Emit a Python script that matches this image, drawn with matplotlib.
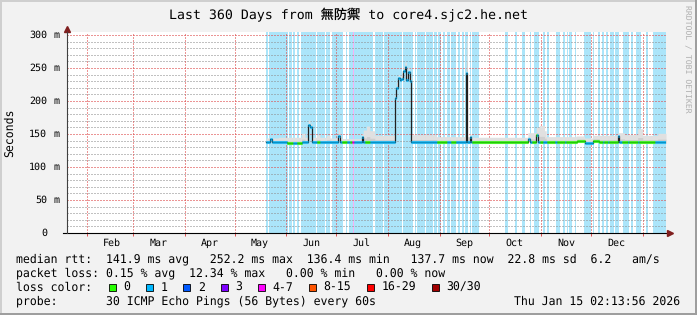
import numpy as np
import matplotlib
matplotlib.use('Agg')
import matplotlib.pyplot as plt
import matplotlib.dates as mdates
from matplotlib.collections import LineCollection
from matplotlib.patches import Rectangle
from datetime import datetime, timedelta

END = datetime(2026, 1, 15, 2, 13, 56)
START = END - timedelta(days=360)

# all x values are days since START
# light blue background bars (loss 1 seen in the interval)
loss_bg = [(119.6, 121.1), (121.7, 132.8), (133.6, 135.0), (135.8, 137.2), (138.0, 139.6),
           (140.6, 149.4), (150.3, 154.9), (155.9, 158.3), (159.3, 166.1), (167.7, 168.5),
           (169.7, 184.1), (184.9, 190.0), (190.8, 201.3), (201.9, 207.9), (208.9, 209.9),
           (210.3, 215.0), (216.0, 218.0), (218.4, 220.0), (220.6, 222.5), (223.1, 224.8),
           (226.0, 227.2), (228.4, 230.2), (230.8, 233.8), (235.0, 236.2), (237.4, 238.6),
           (239.2, 241.0), (242.2, 242.8), (243.4, 247.6), (263.2, 265.0), (269.2, 270.4),
           (273.5, 275.3), (278.0, 279.0), (280.7, 283.6), (286.1, 287.3), (288.5, 289.7),
           (293.9, 296.3), (298.1, 299.3), (300.5, 301.1), (301.7, 303.5), (305.3, 305.9),
           (310.7, 314.9), (316.1, 316.7), (319.1, 320.3), (321.5, 322.7), (323.9, 325.1),
           (326.3, 328.7), (329.3, 331.7), (334.2, 337.8), (339.0, 340.2), (341.9, 344.9),
           (347.9, 349.2), (352.2, 360.0)]
pink_bg = [(171.8, 172.4)]

DATA_START = 119.6
BASE_RTT = 137.5
# median rtt (ms) where it differs from the baseline: (from, to, value)
median_segments = [(122, 123, 143), (132.5, 141, 136), (145, 146, 163), (146, 147, 160),
                   (163, 164, 147), (177, 178, 146),
                   (197, 198, 205), (198, 199, 220), (199, 200, 235), (200, 201, 232),
                   (201, 202, 234), (202, 203, 245), (203, 204, 252), (204, 205, 232),
                   (205, 206, 244), (206, 207, 230),
                   (239.5, 240.5, 242), (242, 243, 145), (277, 278, 142), (282, 283, 148),
                   (306.5, 311.3, 139.5), (311.3, 316, 136), (316, 320, 139.5), (331, 332, 147)]

SMOKE_TOP = 145.0
# top of the smoke (ms)
smoke_segments = [(119.6, 127, 144), (141, 143, 151), (145, 146, 171), (146, 147, 166),
                  (150, 152, 149), (156, 158, 148), (158, 163, 144), (163, 164, 157),
                  (164, 165, 148), (165, 177, 143), (177, 178, 150), (178, 180, 156),
                  (180, 182, 162), (182, 185, 155), (185, 197, 148),
                  (197, 198, 210), (198, 199, 228), (199, 200, 240), (200, 201, 238),
                  (201, 202, 242), (202, 203, 252), (203, 204, 259), (204, 205, 240),
                  (205, 206, 250), (206, 207, 236),
                  (207, 222, 149), (222, 239.5, 146), (240, 240.5, 295), (240.5, 242, 146),
                  (242, 243, 150), (243, 277, 145), (277, 282, 152), (282, 284, 160),
                  (284, 287, 163), (287, 288, 155), (288, 306, 146), (306, 311, 147),
                  (311, 316, 144), (316, 331, 148), (331, 335, 152), (335, 343, 149),
                  (343, 346, 158), (346, 355, 148), (355, 360, 151)]

# loss class of the median band (default 0 = no loss)
band_loss = [(119.6, 132.5, 1), (136, 138, 1), (141, 150, 1), (152, 165, 1), (168, 170, 1),
             (171.5, 172.5, 4), (172.5, 179, 1), (182, 222.5, 1), (228.5, 231, 1),
             (234, 243.5, 1), (277, 279.5, 1), (282.5, 284.5, 1), (286, 288.5, 1),
             (293.5, 294.5, 1), (299, 300, 1), (311.3, 316, 1), (322, 323, 1), (325, 326, 1),
             (331, 333.5, 1), (337, 338, 1), (343, 344, 1), (353.5, 360, 1)]

loss_labels = ['0', '1', '2', '3', '4-7', '8-15', '16-29', '30/30']
loss_colors = ['#26ff00', '#00b8ff', '#0059ff', '#7e00ff', '#ff00ff', '#ff5500', '#ff0000', '#a00000']

y_ticks = [0, 50, 100, 150, 200, 250, 300]

legend_lines = [
    'median rtt:  141.9 ms avg   252.2 ms max  136.4 ms min   137.7 ms now  22.8 ms sd  6.2   am/s',
    'packet loss: 0.15 % avg  12.34 % max   0.00 % min   0.00 % now',
    'loss color:',
    'probe:       30 ICMP Echo Pings (56 Bytes) every 60s',
]
title = 'Last 360 Days from 無防禦 to core4.sjc2.he.net'
stamp = 'Thu Jan 15 02:13:56 2026'


def step_eval(segs, t, default):
    out = np.full(len(t), default, dtype=float)
    for a, b, v in segs:
        out[(t >= a) & (t < b)] = v
    return out


plt.rcParams['font.family'] = ['DejaVu Sans Mono', 'Noto Sans CJK TC']
plt.rcParams['text.hinting'] = 'no_hinting'

W, H = 697, 315
fig = plt.figure(figsize=(W / 100, H / 100), dpi=100, facecolor='#f2f2f2')
ax = fig.add_axes([67 / W, (H - 233) / H, 599 / W, 201 / H])
ax.set_facecolor('white')
x0 = mdates.date2num(START)
ax.set_xlim(x0, x0 + 360)
ax.set_ylim(0, 300 * 201 / 198)

# loss background
for a, b in loss_bg:
    ax.axvspan(x0 + a, x0 + b, color='#abe5fa', lw=0, zorder=0.5)
for a, b in pink_bg:
    ax.axvspan(x0 + a, x0 + b, color='#f7b0f4', lw=0, zorder=0.5)

# grid, dotted 1px on / 1px off
dots = (0, (1.4, 1.4))
for v in range(10, 301, 10):
    if v % 50:
        ax.axhline(v, color='#8f8f8f', alpha=0.55, lw=0.72, ls=dots, zorder=1, antialiased=False)
for v in range(50, 301, 50):
    ax.axhline(v, color='#de4f4f', alpha=0.6, lw=0.72, ls=dots, zorder=1.1, antialiased=False)
month_starts = [mdates.date2num(datetime(2025, m, 1)) for m in range(2, 13)]
month_starts.append(mdates.date2num(datetime(2026, 1, 1)))
for m in month_starts:
    ax.axvline(m, color='#de4f4f', alpha=0.6, lw=0.72, ls=dots, zorder=1.1, antialiased=False)

# smoke, median line, loss-coloured band
edges = np.arange(119.5, 360.001, 0.5)
edges[0] = DATA_START
mid = (edges[:-1] + edges[1:]) / 2
median = step_eval(median_segments, mid, BASE_RTT)
smoke_hi = np.maximum(step_eval(smoke_segments, mid, SMOKE_TOP), median + 2)
loss = step_eval(band_loss, mid, 0).astype(int)

xs = x0 + edges
lo = np.append(median - 1.5, median[-1] - 1.5)
hi = np.append(smoke_hi, smoke_hi[-1])
inner = median + (smoke_hi - median) * 0.35
inner = np.append(inner, inner[-1])
ax.fill_between(xs, lo, hi, step='post', color='#e0e0e0', lw=0, zorder=2)
ax.fill_between(xs, lo, inner, step='post', color='#cfcfcf', lw=0, zorder=2.1)
ax.step(xs, np.append(median, median[-1]), where='post', color='#202020', lw=0.9, zorder=3)
segs = [[(xs[i], median[i]), (xs[i + 1], median[i])] for i in range(len(median))]
band = LineCollection(segs, colors=[loss_colors[c] for c in loss], linewidths=2.2,
                      capstyle='butt', zorder=4)
ax.add_collection(band)

# axes
for s in ['top', 'right', 'bottom']:
    ax.spines[s].set_visible(False)
ax.spines['left'].set_color('#404040')
ax.spines['left'].set_linewidth(0.8)
ax.set_yticks([])
ax.set_xticks(month_starts)
ax.xaxis.set_major_formatter(plt.NullFormatter())
ax.tick_params(axis='x', which='major', length=2.5, color='#de4f4f', width=0.7)
ax.xaxis.set_minor_locator(mdates.MonthLocator(bymonthday=16))
ax.xaxis.set_minor_formatter(mdates.DateFormatter('%b'))
ax.tick_params(axis='x', which='minor', length=0, pad=3.5, labelsize=7.2)

ytr = ax.get_yaxis_transform()
for v in y_ticks:
    ax.text((47 - 67) / 599, v, str(v), transform=ytr, ha='right', va='center', fontsize=7.2)
    if v:
        ax.text((53 - 67) / 599, v, 'm', transform=ytr, ha='left', va='center', fontsize=7.2)

px = lambda x: x / W
py = lambda y: 1 - y / H
ft = fig.transFigure
ax.plot([px(63), px(668)], [py(233), py(233)], color='black', lw=0.8, transform=ft, clip_on=False)
ax.plot([px(67)], [py(28.5)], marker='^', ms=4.5, color='#801f1f', transform=ft, clip_on=False)
ax.plot([px(670)], [py(233)], marker='>', ms=4.5, color='#801f1f', transform=ft, clip_on=False)

# texts
fig.text(0.5, py(15), title, ha='center', va='center', fontsize=9.5)
fig.text(px(10), py(132.5), 'Seconds', rotation=90, ha='center', va='center', fontsize=8.3)
fig.text(px(687), py(59), 'RRDTOOL / TOBI OETIKER', rotation=270, ha='center', va='center',
         fontsize=5.9, color='#b0b0b0')
line_y = [259.3, 273.3, 287.3, 301]
for s, y in zip(legend_lines, line_y):
    fig.text(px(16), py(y), s, ha='left', va='center', fontsize=8.3)
fig.text(px(680), py(301), stamp, ha='right', va='center', fontsize=8.3)

cw = 6.93
x = 109.0
for lab, col in zip(loss_labels, loss_colors):
    fig.add_artist(Rectangle((px(x), py(line_y[2] + 3.5)), 7 / W, 7 / H, transform=ft,
                             facecolor=col, edgecolor='black', lw=0.6))
    fig.text(px(x + 14.5), py(line_y[2]), lab, ha='left', va='center', fontsize=8.3)
    x += 14.5 + len(lab) * cw + 15.8

# 3d frame
fig.add_artist(Rectangle((0, py(2)), 1, 2 / H, transform=ft, color='#cfcfcf', lw=0))
fig.add_artist(Rectangle((0, 0), 2 / W, 1, transform=ft, color='#cfcfcf', lw=0))
fig.add_artist(Rectangle((px(695), 0), 2 / W, 1, transform=ft, color='#9e9e9e', lw=0))
fig.add_artist(Rectangle((0, 0), 1, 2 / H, transform=ft, color='#9e9e9e', lw=0))

fig.savefig('out.png', dpi=100, facecolor=fig.get_facecolor())
